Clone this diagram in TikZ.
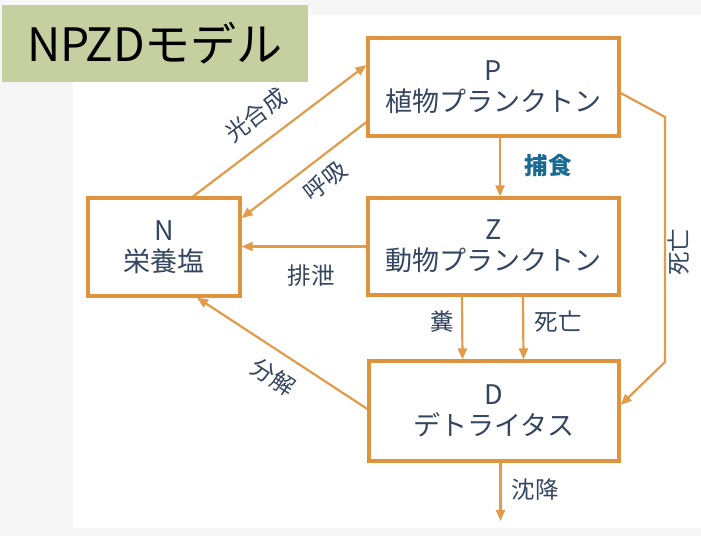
\documentclass[tikz,border=0pt]{standalone}
\usepackage{fontspec}
\setmainfont{Noto Sans CJK JP}
\usetikzlibrary{arrows.meta,calc}
\definecolor{boxor}{HTML}{E0923C}
\definecolor{lineor}{HTML}{E39B4A}
\definecolor{txt}{HTML}{34465F}
\definecolor{blu}{HTML}{1A6A94}
\definecolor{olive}{HTML}{C5CF9F}
\definecolor{bgg}{HTML}{F6F6F6}
\tikzset{
  box/.style={draw=boxor,line width=3.2pt,fill=white,text=txt,align=center,
    font=\fontsize{27}{33}\selectfont,inner sep=0pt},
  arr/.style={draw=lineor,line width=2.2pt,-{Triangle[length=11pt,width=9pt]}},
  lab/.style={text=txt,font=\fontsize{23.5}{26}\selectfont,inner sep=0pt},
}
\begin{document}
\begin{tikzpicture}[x=1pt,y=-1pt]
\useasboundingbox (0,0) rectangle (701,536);
\fill[bgg] (0,0) rectangle (701,536);
\fill[white] (73,15) rectangle (701,528);
% title
\node[fill=olive,minimum width=306pt,minimum height=77pt,inner sep=0pt,
  font=\fontsize{46}{50}\selectfont,text=black] (title) at (155,43.5) {NPZDモデル};
% boxes
\node[box,minimum width=251pt,minimum height=98pt] (P) at (493.5,87) {P\\[-2pt]植物プランクトン};
\node[box,minimum width=251pt,minimum height=97pt] (Z) at (493.5,246.5) {Z\\[-2pt]動物プランクトン};
\node[box,minimum width=152pt,minimum height=98pt] (N) at (164,247) {N\\[-2pt]栄養塩};
\node[box,minimum width=250pt,minimum height=100pt] (D) at (494,411) {D\\[-2pt]デトライタス};
% connectors
\draw[arr] ([xshift=29pt]N.north) -- ([yshift=22pt]P.west);
\draw[arr] ([yshift=-35pt]P.west) -- ([yshift=29pt]N.east);
\draw[arr] (Z.west) -- (Z.west -| N.east);
\draw[arr] ([xshift=6.5pt]P.south) -- ([xshift=6.5pt]Z.north);
\draw[arr] ([xshift=-31.5pt]Z.south) -- ([xshift=-31.5pt]D.north);
\draw[arr] ([xshift=29.5pt]Z.south) -- ([xshift=29.5pt]D.north);
\coordinate (r1) at (665,117);
\coordinate (r2) at (665,362);
\draw[arr] ([yshift=-6pt]P.east) -- (r1) -- (r2) -- ([yshift=6pt]D.east);
\draw[arr] ([yshift=2pt]D.west) -- ([xshift=33pt]N.south);
\coordinate (sink) at (500.5,521);
\draw[arr] ([xshift=6.5pt]D.south) -- (sink);
% labels
\node[lab,rotate=37] (l1) at (256,115) {光合成};
\node[lab,rotate=37] (l2) at (325,181) {呼吸};
\node[lab] (l3) at (311,276) {排泄};
\node[lab,text=blu,font=\fontsize{23.5}{26}\selectfont\bfseries] (l4) at (548,166) {捕食};
\node[lab] (l5) at (442,322) {糞};
\node[lab] (l6) at (558,322) {死亡};
\node[lab,rotate=90] (l7) at (679,252) {死亡};
\node[lab,rotate=-33] (l8) at (273,377) {分解};
\node[lab] (l9) at (535,490) {沈降};
\end{tikzpicture}
\end{document}
